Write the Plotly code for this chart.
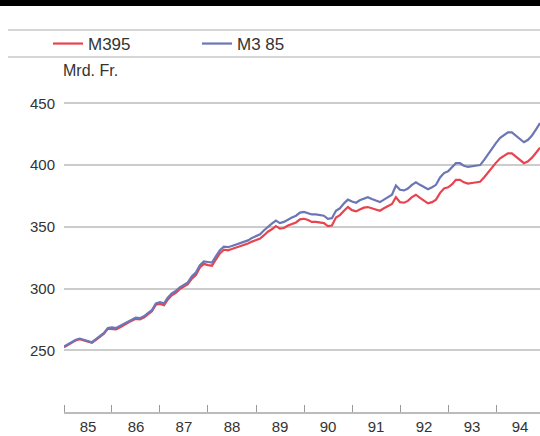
import plotly.graph_objects as go
import pandas as pd

months = pd.date_range("1985-01-01", "1994-12-01", freq="MS")

m3_85 = [
    253, 255, 257, 258.5, 259.5, 258.5, 257, 256.5, 259, 261.5, 264, 268,
    268.5, 268, 269.5, 271.5, 273, 275, 276.5, 276, 277.5, 280, 282.5, 288,
    289, 288, 292.5, 296, 298, 301, 303, 305, 310, 313, 319, 322,
    321.5, 321, 326, 331, 334, 333.5, 334.5, 335.5, 336.5, 337.5, 339, 341,
    342.5, 344, 347, 350, 352.5, 355, 353, 354, 356, 357.5, 359, 361.5,
    362, 361, 360, 360, 359.5, 359, 356.5, 357, 363, 365, 369, 372,
    370.5, 369.5, 371.5, 373, 374, 372.5, 371, 370, 372, 374, 376, 383.5,
    380, 379.5, 381, 384, 386, 384, 382, 380.5, 382, 384, 390, 393.5,
    395, 398, 401.5, 401.5, 399.5, 398.5, 399, 399.5, 400, 404, 409, 414,
    418, 422, 424.5, 426.5, 426.5, 424, 421, 418.5, 420.5, 424, 429, 434,
]

m3_95 = [
    252.5, 254.5, 256.5, 258, 259, 258, 256.5, 256, 258.5, 261, 263.5, 267.5,
    267.5, 267, 268.5, 270.5, 272, 274, 275.5, 275, 276.5, 279, 281.5, 287,
    287.5, 286.5, 291, 294.5, 296.5, 299.5, 301.5, 303.5, 308, 311, 317, 320,
    319, 318.5, 323.5, 328.5, 331.5, 331, 332, 333, 334, 335, 336.5, 338,
    339, 340.5, 343, 346, 348, 350.5, 348.5, 349, 351, 352, 353.5, 356,
    356.5, 355.5, 354, 354, 353.5, 353, 350.5, 351, 357.5, 359.5, 363, 366,
    363.5, 362.5, 364, 365.5, 366, 365, 364, 363, 365, 367, 368.5, 374,
    370, 369.5, 371, 374, 376, 373.5, 371, 369, 370, 372, 377.5, 381,
    382, 384.5, 388, 388, 386, 385, 385.5, 386, 386.5, 390, 394, 398.5,
    402, 405.5, 407.5, 409.5, 409.5, 407, 404, 401.5, 403, 406, 410, 414,
]

y_ticks = [250, 300, 350, 400, 450]

FONT = "Liberation Sans, Arial, sans-serif"

fig = go.Figure()
fig.add_trace(go.Scatter(x=months, y=m3_95, mode="lines", name="M395",
                         line=dict(color="#e8434f", width=2.2)))
fig.add_trace(go.Scatter(x=months, y=m3_85, mode="lines", name="M3 85",
                         line=dict(color="#6b76b6", width=2.2)))

W, H = 540, 436
L, B, T = 64, 24, 91
ph = H - B - T
pw = W - L

def px_x(p):
    return (p - L) / pw

def px_y(p):
    return (H - B - p) / ph

shapes = [
    dict(type="rect", xref="paper", yref="paper", x0=px_x(0), x1=px_x(540),
         y0=px_y(6), y1=px_y(0), fillcolor="#000000", line=dict(width=0)),
    dict(type="line", xref="paper", yref="paper", x0=px_x(8), x1=px_x(540),
         y0=px_y(30), y1=px_y(30), line=dict(color="#c8c8c8", width=1.5)),
    dict(type="line", xref="paper", yref="paper", x0=px_x(8), x1=px_x(540),
         y0=px_y(57), y1=px_y(57), line=dict(color="#c8c8c8", width=1.5)),
]

fig.update_layout(
    width=W, height=H,
    margin=dict(l=L, r=0, t=T, b=B),
    paper_bgcolor="white", plot_bgcolor="white",
    font=dict(family=FONT, size=15, color="#333333"),
    showlegend=True,
    legend=dict(orientation="h", x=px_x(48), y=px_y(44), xanchor="left",
                yanchor="middle", itemwidth=30, entrywidth=104,
                font=dict(size=17, color="#333333"), bgcolor="rgba(0,0,0,0)"),
    shapes=shapes,
    annotations=[dict(text="Mrd. Fr.", xref="paper", yref="paper",
                      x=px_x(61), y=px_y(70), xanchor="left", yanchor="middle",
                      showarrow=False, font=dict(size=16, color="#333333"))],
    xaxis=dict(
        type="date",
        range=["1985-01-01", "1994-12-01"],
        tick0="1985-01-01", dtick="M12", tickformat="%y",
        ticklabelmode="period",
        ticks="inside", ticklen=7, tickcolor="#999999", tickwidth=1,
        showline=True, linecolor="#bbbbbb", linewidth=1.5,
        showgrid=False, zeroline=False,
        tickfont=dict(size=15, color="#333333"),
    ),
    yaxis=dict(
        range=[200, 460],
        tickvals=y_ticks, ticktext=[str(v) for v in y_ticks],
        showgrid=True, gridcolor="#cccccc", gridwidth=1.5,
        zeroline=False, showline=False, ticks="",
        ticklabelstandoff=8,
        tickfont=dict(size=15, color="#333333"),
    ),
)

fig.write_html(
    "out.html",
    config={"displayModeBar": False},
    post_script="document.body.style.margin='0';document.body.style.overflow='hidden';",
)
